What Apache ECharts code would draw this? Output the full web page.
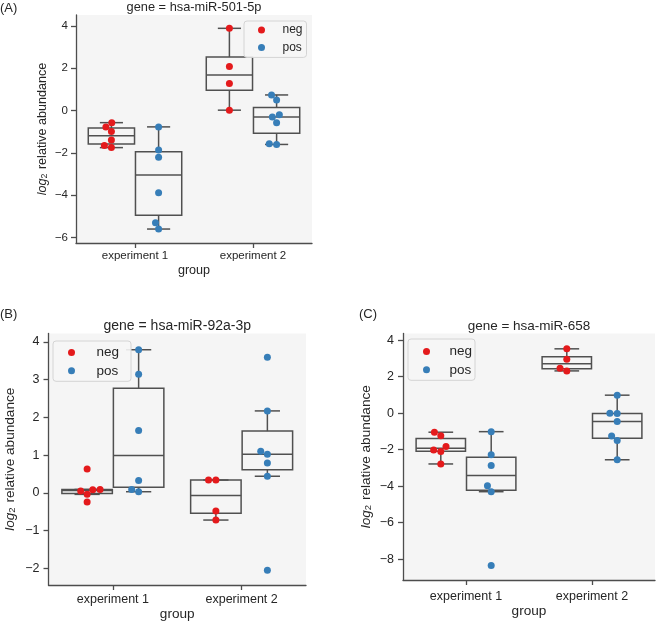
<!DOCTYPE html>
<html>
<head>
<meta charset="utf-8">
<script src="https://cdn.jsdelivr.net/npm/echarts@6/dist/echarts.min.js"></script>
<style>
html, body { margin: 0; padding: 0; background: #fff; }
#chart { width: 657px; height: 623px; }
</style>
</head>
<body>
<div id="chart"></div>
<script>
var categories = ['experiment 1', 'experiment 2'];
var hues = ['neg', 'pos'];
var hueColors = ['#e41a1c', '#377eb8'];

// (A) gene = hsa-miR-501-5p
var aNeg1 = [-0.57, -0.77, -0.99, -1.39, -1.65, -1.75];
var aPos1 = [-0.77, -1.86, -2.2, -3.88, -5.3, -5.6];
var aNeg2 = [3.89, 2.08, 1.28, 0.02];
var aPos2 = [0.74, 0.5, -0.2, -0.3, -0.57, -1.57, -1.6];
var aTicks = [-6, -4, -2, 0, 2, 4];

// (B) gene = hsa-miR-92a-3p
var bNeg1 = [0.63, 0.08, -0.04, 0.05, 0.09, -0.24];
var bPos1 = [3.79, 3.14, 1.65, 0.33, 0.09, 0.03];
var bNeg2 = [0.34, 0.34, -0.48, -0.72];
var bPos2 = [3.59, 2.17, 1.1, 1.02, 0.79, 0.44, -2.05];
var bTicks = [-2, -1, 0, 1, 2, 3, 4];

// (C) gene = hsa-miR-658
var cNeg1 = [-1.04, -1.23, -1.83, -2.01, -2.1, -2.78];
var cPos1 = [-1.01, -2.27, -2.86, -3.97, -4.3, -8.34];
var cNeg2 = [3.53, 2.96, 2.47, 2.32];
var cPos2 = [0.99, 0.0, -0.02, -0.45, -1.25, -1.5, -2.55];
var cTicks = [-8, -6, -4, -2, 0, 2, 4];

var FONT = '"Liberation Sans", Arial, sans-serif';
var TEXT = '#262626';
var AXIS = '#4d4d4d';
var BOX_LINE = '#505050';
var BOX_W = 0.392;     // seaborn: 0.8 / 2 hues * 0.98
var DODGE = 0.2;
var DOT = 7;           // marker diameter in px, also swarm spacing

var panels = [
    {
        label: '(A)', labelPos: [0, 8], title: 'gene = hsa-miR-501-5p', titleY: 7.5,
        neg: [aNeg1, aNeg2], pos: [aPos1, aPos2], ticks: aTicks, yMin: -6.26, yMax: 4.52,
        grid: {left: 76, top: 15, width: 236, height: 228},
        font: 11.5, titleFont: 12.8, nameFont: 12.6, labelMargin: 7, nameGapX: 21, nameGapY: 27, tickMargin: 8,
        legend: {left: 244, top: 21, itemWidth: 32, itemGap: 3.4, lineHeight: 14, padding: [2, 4, 3, 14], font: 12}
    },
    {
        label: '(B)', labelPos: [0, 314], title: 'gene = hsa-miR-92a-3p', titleY: 326,
        neg: [bNeg1, bNeg2], pos: [bPos1, bPos2], ticks: bTicks, yMin: -2.44, yMax: 4.22,
        grid: {left: 48.5, top: 333.5, width: 257.5, height: 251.5},
        font: 12.5, titleFont: 14, nameFont: 13.6, labelMargin: 8.5, nameGapX: 22, nameGapY: 31, tickMargin: 9,
        legend: {left: 53, top: 341, itemWidth: 40, itemGap: 3.3, lineHeight: 15, padding: [4, 12, 3, 15], font: 13.5}
    },
    {
        label: '(C)', labelPos: [359, 314], title: 'gene = hsa-miR-658', titleY: 326,
        neg: [cNeg1, cNeg2], pos: [cPos1, cPos2], ticks: cTicks, yMin: -9.14, yMax: 4.37,
        grid: {left: 403, top: 333.5, width: 252, height: 246.5},
        font: 12.5, titleFont: 13.5, nameFont: 13.6, labelMargin: 10, nameGapX: 24, nameGapY: 30, tickMargin: 9,
        legend: {left: 408, top: 339, itemWidth: 36, itemGap: 3.3, lineHeight: 15, padding: [5, 3, 3, 15], font: 13.5}
    }
];

function quantile(sorted, q) {
    var pos = (sorted.length - 1) * q;
    var lo = Math.floor(pos), hi = Math.ceil(pos);
    return sorted[lo] + (sorted[hi] - sorted[lo]) * (pos - lo);
}

// box stats like matplotlib: linear quartiles, whiskers to furthest point within 1.5 IQR
function boxStats(values) {
    var s = values.slice().sort(function (a, b) { return a - b; });
    var q1 = quantile(s, 0.25), med = quantile(s, 0.5), q3 = quantile(s, 0.75);
    var iqr = q3 - q1;
    var lo = q1, hi = q3;
    s.forEach(function (v) {
        if (v >= q1 - 1.5 * iqr && v < lo) lo = v;
        if (v <= q3 + 1.5 * iqr && v > hi) hi = v;
    });
    return [q1, med, q3, lo, hi];
}

// seaborn-style beeswarm, works in pixels; returns x offsets (px) in input order
function swarmOffsets(values, pxPerY, d) {
    var pts = values.map(function (v, i) { return {i: i, y: v * pxPerY, x: 0}; });
    pts.sort(function (a, b) { return a.y - b.y; });
    var placed = [];
    pts.forEach(function (p, k) {
        if (k === 0) { placed.push(p); return; }
        var nb = [];
        for (var j = placed.length - 1; j >= 0; j--) {
            if (p.y - placed[j].y < d) nb.unshift(placed[j]); else break;
        }
        var cands = [0];
        var leftFirst = true;
        nb.forEach(function (q) {
            var dy = p.y - q.y;
            var dx = Math.sqrt(Math.max(d * d - dy * dy, 0)) * 1.05;
            if (leftFirst) cands.push(q.x - dx, q.x + dx); else cands.push(q.x + dx, q.x - dx);
            leftFirst = !leftFirst;
        });
        var order = cands.map(function (c, n) { return {c: c, n: n}; });
        order.sort(function (a, b) { return (Math.abs(a.c) - Math.abs(b.c)) || (a.n - b.n); });
        var chosen = order[order.length - 1].c;
        for (var m = 0; m < order.length; m++) {
            var c = order[m].c;
            var ok = nb.every(function (q) {
                return (c - q.x) * (c - q.x) + (p.y - q.y) * (p.y - q.y) >= d * d - 1e-6;
            });
            if (ok) { chosen = c; break; }
        }
        p.x = chosen;
        placed.push(p);
    });
    var out = [];
    pts.forEach(function (p) { out[p.i] = p.x; });
    return out;
}

function renderBox(params, api) {
    var x = api.value(0);
    var half = api.size([BOX_W, 0])[0] / 2;
    var cap = half / 2;
    var p1 = api.coord([x, api.value(1)]);
    var pm = api.coord([x, api.value(2)]);
    var p3 = api.coord([x, api.value(3)]);
    var pl = api.coord([x, api.value(4)]);
    var ph = api.coord([x, api.value(5)]);
    var st = {stroke: BOX_LINE, lineWidth: 1.5, fill: 'transparent'};
    var cx = p1[0];
    return {
        type: 'group',
        children: [
            {type: 'line', shape: {x1: cx, y1: p3[1], x2: cx, y2: ph[1]}, style: st},
            {type: 'line', shape: {x1: cx, y1: p1[1], x2: cx, y2: pl[1]}, style: st},
            {type: 'line', shape: {x1: cx - cap, y1: ph[1], x2: cx + cap, y2: ph[1]}, style: st},
            {type: 'line', shape: {x1: cx - cap, y1: pl[1], x2: cx + cap, y2: pl[1]}, style: st},
            {type: 'rect', shape: {x: cx - half, y: p3[1], width: half * 2, height: p1[1] - p3[1]}, style: st},
            {type: 'line', shape: {x1: cx - half, y1: pm[1], x2: cx + half, y2: pm[1]}, style: st}
        ]
    };
}

function minusSign(v) {
    return String(v).replace('-', '\u2212');
}

var grids = [], xAxes = [], yAxes = [], series = [], legends = [], graphics = [];

panels.forEach(function (p, idx) {
    grids.push({
        left: p.grid.left, top: p.grid.top, width: p.grid.width, height: p.grid.height,
        show: true, backgroundColor: '#f5f5f5', borderWidth: 0
    });
    xAxes.push({
        type: 'value', gridIndex: idx, min: -0.5, max: 1.5, position: 'bottom',
        name: 'group', nameLocation: 'middle', nameGap: p.nameGapX,
        nameTextStyle: {fontFamily: FONT, fontSize: p.nameFont, color: TEXT},
        axisLine: {onZero: false, lineStyle: {color: AXIS, width: 1.3}},
        axisTick: {length: 5, lineStyle: {color: AXIS, width: 1.3}, customValues: [0, 1]},
        axisLabel: {
            customValues: [0, 1], margin: p.labelMargin,
            fontFamily: FONT, fontSize: p.font, color: TEXT,
            formatter: function (v) { return categories[Math.round(v)]; }
        },
        splitLine: {show: false}
    });
    yAxes.push({
        type: 'value', gridIndex: idx, min: p.yMin, max: p.yMax, position: 'left',
        name: '{i|log}{s|2} relative abundance', nameLocation: 'middle', nameGap: p.nameGapY, nameRotate: 90,
        nameTextStyle: {
            fontFamily: FONT, fontSize: p.nameFont, color: TEXT,
            rich: {
                i: {fontFamily: FONT, fontSize: p.nameFont, fontStyle: 'italic', color: TEXT},
                s: {fontFamily: FONT, fontSize: p.nameFont * 0.7, color: TEXT, verticalAlign: 'bottom', padding: [0, 1, 0, 0]}
            }
        },
        axisLine: {show: true, onZero: false, lineStyle: {color: AXIS, width: 1.3}},
        axisTick: {show: true, length: 5, lineStyle: {color: AXIS, width: 1.3}, customValues: p.ticks},
        axisLabel: {customValues: p.ticks, margin: p.tickMargin, fontFamily: FONT, fontSize: p.font, color: TEXT,
            formatter: minusSign},
        splitLine: {show: false}
    });

    var pxPerY = p.grid.height / (p.yMax - p.yMin);
    var pxPerX = p.grid.width / 2;
    var boxes = [];
    [p.neg, p.pos].forEach(function (groups, h) {
        var pts = [];
        groups.forEach(function (vals, c) {
            var center = c + (h === 0 ? -DODGE : DODGE);
            boxes.push([center].concat(boxStats(vals)));
            var offs = swarmOffsets(vals, pxPerY, DOT);
            vals.forEach(function (v, i) { pts.push([center + offs[i] / pxPerX, v]); });
        });
        series.push({
            name: hues[h], type: 'scatter', xAxisIndex: idx, yAxisIndex: idx,
            data: pts, symbolSize: DOT, z: 5, silent: true,
            itemStyle: {color: hueColors[h], opacity: 1}
        });
    });
    series.push({
        name: 'box' + idx, type: 'custom', xAxisIndex: idx, yAxisIndex: idx,
        data: boxes, renderItem: renderBox, encode: {x: 0, y: [1, 2, 3, 4, 5]}, z: 2, silent: true
    });

    var L = p.legend;
    legends.push({
        left: L.left, top: L.top, orient: 'vertical', data: hues, icon: 'circle',
        itemWidth: L.itemWidth, itemHeight: DOT, itemGap: L.itemGap, padding: L.padding,
        backgroundColor: 'rgba(246,246,246,0.9)', borderColor: '#d4d4d4', borderWidth: 1, borderRadius: 3,
        selectedMode: false,
        textStyle: {fontFamily: FONT, fontSize: L.font, color: TEXT, lineHeight: L.lineHeight}
    });

    graphics.push({
        type: 'text', x: p.labelPos[0], y: p.labelPos[1],
        style: {text: p.label, font: '13px ' + FONT, fill: TEXT, textVerticalAlign: 'middle', verticalAlign: 'middle'}
    });
    graphics.push({
        type: 'text', x: p.grid.left + p.grid.width / 2, y: p.titleY,
        style: {
            text: p.title, font: p.titleFont + 'px ' + FONT, fill: TEXT,
            textAlign: 'center', align: 'center', textVerticalAlign: 'middle', verticalAlign: 'middle'
        }
    });
});

var chart = echarts.init(document.getElementById('chart'), null, {renderer: 'canvas'});
chart.setOption({
    animation: false,
    backgroundColor: '#ffffff',
    grid: grids,
    xAxis: xAxes,
    yAxis: yAxes,
    legend: legends,
    graphic: graphics,
    series: series
});
</script>
</body>
</html>
